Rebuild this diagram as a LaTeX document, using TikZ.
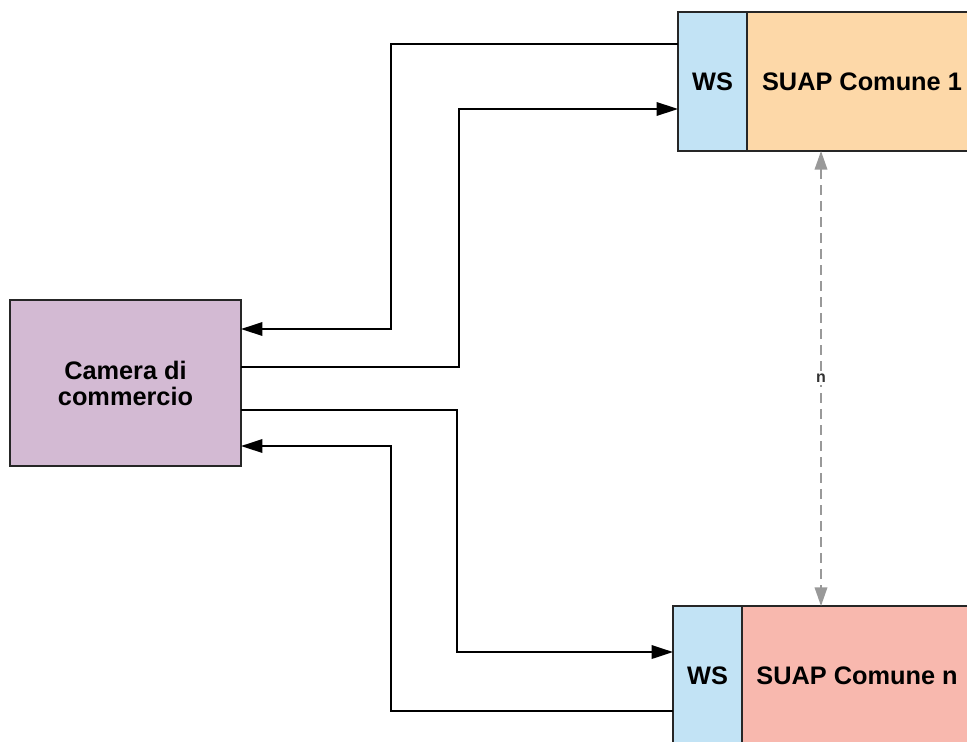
\documentclass[tikz,border=0pt]{standalone}
\usepackage{fontspec}
\setmainfont{Liberation Sans}
\usetikzlibrary{arrows.meta, positioning}

\definecolor{camfill}{HTML}{D3BAD3}
\definecolor{wsfill}{HTML}{C2E3F5}
\definecolor{suaponefill}{HTML}{FDD8A8}
\definecolor{suapnfill}{HTML}{F8B8AE}

\begin{document}
\begin{tikzpicture}[x = 0.75pt, y = -0.75pt,
  box/.style = {draw = black!85, line width = 1.5pt, outer sep = 0pt, inner sep = 0pt,
    align = center, font = \bfseries\fontsize{19}{19.5}\selectfont},
  link/.style = {line width = 1.8pt, -{Triangle[length = 16pt, width = 10pt]}},
  nlink/.style = {line width = 1.1pt, gray!80, dash pattern = on 7pt off 5pt,
    {Triangle[length = 14pt, width = 9.5pt]}-{Triangle[length = 14pt, width = 9.5pt]}}]

\useasboundingbox (0, 0) rectangle (967, 742);

\node[box, fill = camfill, minimum width = 173.25pt, minimum height = 124.5pt] (camera) at (125.5, 383) {Camera di\\commercio};

\node[box, fill = wsfill, minimum width = 51.75pt, minimum height = 104.25pt] (ws1) at (712.5, 81.5) {WS};
\node[box, fill = suaponefill, minimum width = 172.5pt, minimum height = 104.25pt, right = 0pt of ws1] (suap1) {SUAP Comune 1};

\node[box, fill = wsfill, minimum width = 51.75pt, minimum height = 104.25pt] (wsn) at (707.5, 675.5) {WS};
\node[box, fill = suapnfill, minimum width = 172.5pt, minimum height = 104.25pt, right = 0pt of wsn] (suapn) {SUAP Comune n};

% requests and answers
\draw[link] (ws1.west |- 0, 44) -- (391, 44) -- (391, 329) -- (camera.east |- 0, 329);
\draw[link] (camera.east |- 0, 367) -- (459, 367) -- (459, 109) -- (ws1.west |- 0, 109);
\draw[link] (camera.east |- 0, 410) -- (457, 410) -- (457, 652) -- (wsn.west |- 0, 652);
\draw[link] (wsn.west |- 0, 711) -- (391, 711) -- (391, 446) -- (camera.east |- 0, 446);

\draw[nlink] (suap1.south -| 821, 0) -- (suapn.north -| 821, 0)
  node[midway, fill = white, text = black!80, inner sep = 2pt, font = \bfseries\fontsize{12}{14}\selectfont] (nlabel) {n};
\end{tikzpicture}
\end{document}
